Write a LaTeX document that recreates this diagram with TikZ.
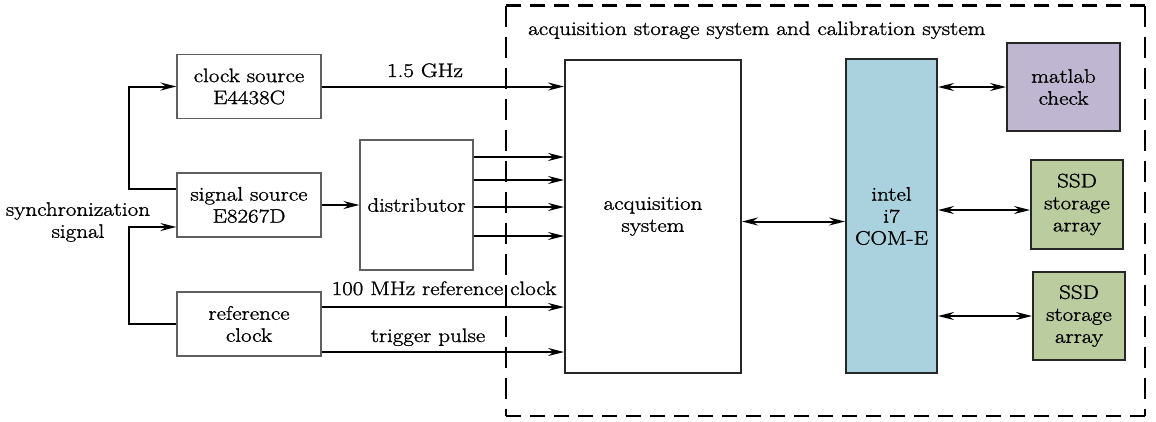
\documentclass[tikz,border=0pt]{standalone}
\usepackage{fontspec}
\setmainfont{Latin Modern Roman}[FakeStretch=1.18, FakeBold=1.3]
\usetikzlibrary{arrows.meta}

\definecolor{intelblue}{RGB}{169,209,222}
\definecolor{matlabviolet}{RGB}{191,183,210}
\definecolor{ssdgreen}{RGB}{187,204,158}
\definecolor{thinframe}{RGB}{95,95,95}

\tikzset{
  txt/.style={font=\fontsize{19.5}{22}\selectfont, align=center, inner sep=0pt},
  srcbox/.style={txt, draw=thinframe, line width=1.2pt, minimum width=144pt, minimum height=64pt},
  blkbox/.style={txt, draw=black!85, line width=2pt},
  arr/.style={line width=2pt, -{Stealth[length=16pt,width=8pt,inset=5.5pt]}},
  darr/.style={line width=2pt, {Stealth[length=16pt,width=8pt,inset=5.5pt]}-{Stealth[length=16pt,width=8pt,inset=5.5pt]}},
  hdash/.style={line width=2.2pt, dash pattern=on 15pt off 9pt},
  vdash/.style={line width=2.2pt, dash pattern=on 21pt off 10pt},
}

\begin{document}
\begin{tikzpicture}[x=1pt,y=-1pt]
\useasboundingbox (0,0) rectangle (1156,421);

% system frame
\coordinate (fNW) at (506,5.5);
\coordinate (fNE) at (1145,5.5);
\coordinate (fSW) at (506,416);
\coordinate (fSE) at (1145,416);
\draw[hdash] (fNW) -- (fNE);
\draw[hdash] (fSW) -- (fSE);
\draw[vdash] (fNW) -- (fSW);
\draw[vdash] (fNE) -- (fSE);
\node[txt, anchor=base west] (title) at (528,35)
  {acquisition storage system and calibration system};

% sources
\node[srcbox] (clk) at (249,86.5) {clock source\\E4438C};
\node[srcbox] (sig) at (249,205) {signal source\\E8267D};
\node[srcbox] (ref) at (249,324) {reference\\clock};
\node[txt, draw=thinframe, line width=1.2pt, minimum width=113pt, minimum height=130pt]
  (dist) at (416.5,205) {distributor};
\node[txt] (sync) at (78,222) {synchronization\\signal};

% acquisition and processing blocks
\node[blkbox, minimum width=176pt, minimum height=313pt] (acq) at (653,216.5)
  {acquisition\\system};
\node[blkbox, fill=intelblue, minimum width=91pt, minimum height=314pt] (intel) at (891.5,216)
  {intel\\i7\\COM-E};
\node[blkbox, fill=matlabviolet, minimum width=113pt, minimum height=88pt] (mat) at (1063.5,87)
  {matlab\\check};
\node[blkbox, fill=ssdgreen, minimum width=92pt, minimum height=89pt] (ssdA) at (1077,204.5)
  {SSD\\storage\\array};
\node[blkbox, fill=ssdgreen, minimum width=92pt, minimum height=88pt] (ssdB) at (1079,316)
  {SSD\\storage\\array};

% synchronization feed
\draw[arr] (sig.west |- 0,189) -- (128.5,189) |- (clk.west);
\draw[arr] (ref.west) -- (128.5,324) |- (sig.west |- 0,227);

% signal paths into the acquisition system
\draw[arr] (clk.east) -- (clk.east -| acq.west);
\node[txt, anchor=base] (lghz) at (425,77) {1.5 GHz};
\draw[arr] (sig.east) -- (dist.west);
\foreach \yy in {157,180,207,236}
  \draw[arr] (dist.east |- 0,\yy) -- (acq.west |- 0,\yy);
\draw[arr] (ref.east |- 0,307) -- (acq.west |- 0,307);
\node[txt, anchor=base] (lref) at (444,295) {100 MHz reference clock};
\draw[arr] (ref.east |- 0,352) -- (acq.west |- 0,352);
\node[txt, anchor=base] (ltrig) at (428,342) {trigger pulse};

% data links
\draw[darr] (acq.east |- 0,221.5) -- (intel.west |- 0,221.5);
\draw[darr] (intel.east |- mat.west) -- (mat.west);
\draw[darr] (intel.east |- 0,210) -- (ssdA.west |- 0,210);
\draw[darr] (intel.east |- 0,316) -- (ssdB.west |- 0,316);
\end{tikzpicture}
\end{document}
